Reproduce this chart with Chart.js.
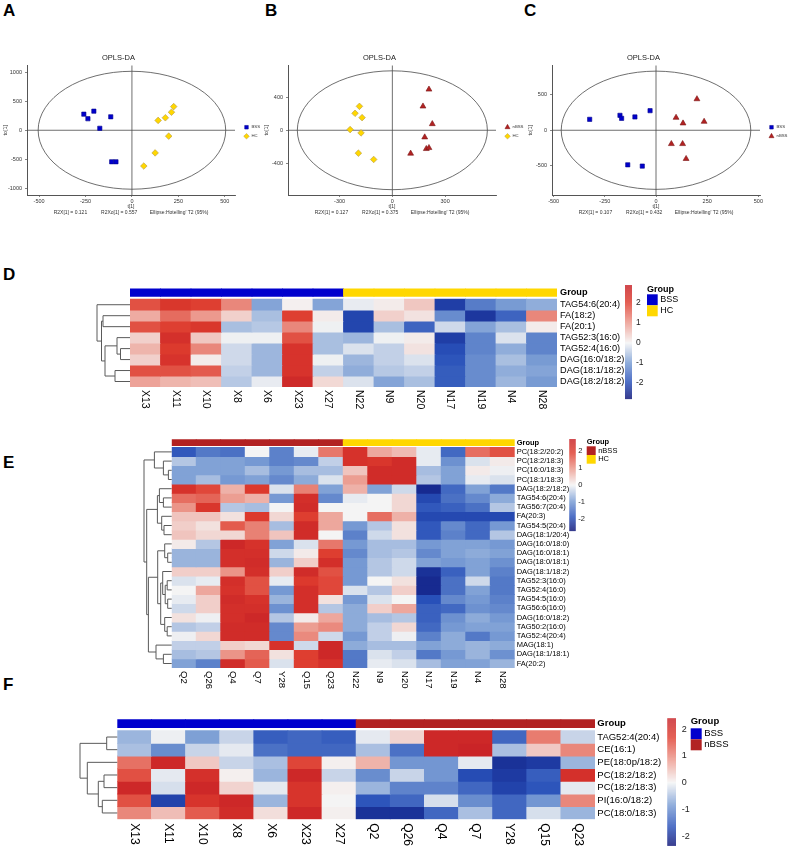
<!DOCTYPE html>
<html><head><meta charset="utf-8">
<script src="https://cdn.jsdelivr.net/npm/chart.js@4.4.1/dist/chart.umd.min.js"></script>
<style>
html,body{margin:0;padding:0;background:#fff}
body{width:789px;height:850px;position:relative;overflow:hidden;font-family:"Liberation Sans",Arial,sans-serif}
.lab{position:absolute;font-weight:bold;font-size:17px;line-height:17px;color:#000}
canvas{position:absolute}
</style></head><body>
<div class="lab" style="left:3px;top:2px">A</div>
<div class="lab" style="left:265px;top:2px">B</div>
<div class="lab" style="left:524px;top:2px">C</div>
<div class="lab" style="left:3px;top:266px">D</div>
<div class="lab" style="left:3px;top:454px">E</div>
<div class="lab" style="left:3px;top:676px">F</div>
<canvas id="cA" width="262" height="176" style="left:0px;top:40px"></canvas>
<canvas id="cB" width="262" height="176" style="left:262px;top:40px"></canvas>
<canvas id="cC" width="265" height="176" style="left:524px;top:40px"></canvas>
<canvas id="cD" width="789" height="140" style="left:0px;top:280px"></canvas>
<canvas id="cE" width="789" height="265" style="left:0px;top:430px"></canvas>
<canvas id="cF" width="789" height="145" style="left:0px;top:705px"></canvas>
<script>
const FONT = '"Liberation Sans", Arial, Helvetica, sans-serif';

// ===== Panel A: OPLS-DA BSS vs HC =====
const aBSS_t  = [-259, -237, -205, -114, -173, -109, -86];
const aBSS_to = [278, 199, 330, 233, 34, -545, -545];
const aHC_t   = [141, 180, 213, 225, 198, 125, 64];
const aHC_to  = [170, 216, 312, 409, -102, -392, -619];
const aTicksX = [-500, -250, 0, 250, 500];
const aTicksY = [-1000, -500, 0, 500, 1000];
const aEllipse = [505, 1020];
const aStats = "R2X[1] = 0.121          R2Xo[1] = 0.557         Ellipse:Hotelling' T2 (95%)";

// ===== Panel B: OPLS-DA nBSS vs HC =====
const bNBSS_t  = [208, 174, 227, 184, 193, 208, 104];
const bNBSS_to = [492, 288, 76, -84, -224, -212, -280];
const bHC_t    = [-187, -212, -172, -240, -178, -193, -106];
const bHC_to   = [288, 204, 152, 8, -32, -276, -352];
const bTicksX = [-300, 0, 300];
const bTicksY = [-400, 0, 400];
const bEllipse = [540, 716];
const bStats = "R2X[1] = 0.127          R2Xo[1] = 0.375         Ellipse:Hotelling' T2 (95%)";

// ===== Panel C: OPLS-DA BSS vs nBSS =====
const cBSS_t   = [-324, -176, -168, -103, -29, -138, -67];
const cBSS_to  = [153, 209, 167, 186, 274, -484, -502];
const cNBSS_t  = [200, 98, 132, 235, 75, 130, 147];
const cNBSS_to = [437, 177, 98, 121, -191, -191, -400];
const cTicksX = [-500, -250, 0, 250, 500];
const cTicksY = [-500, 0, 500];
const cEllipse = [463, 828];
const cStats = "R2X[1] = 0.107          R2Xo[1] = 0.432         Ellipse:Hotelling' T2 (95%)";

// ===== Heatmap D =====
const dCols = ['X13','X11','X10','X8','X6','X23','X27','N22','N9','N20','N17','N19','N4','N28'];
const dGroups = ['BSS','BSS','BSS','BSS','BSS','BSS','BSS','HC','HC','HC','HC','HC','HC','HC'];
const dRows = ['TAG54:6(20:4)','FA(18:2)','FA(20:1)','TAG52:3(16:0)','TAG52:4(16:0)','DAG(16:0/18:2)','DAG(18:1/18:2)','DAG(18:2/18:2)'];
const dValues = [
  [1.8, 2.2, 2.0, 1.2, -0.9, 0.05, -0.9, -0.1, 0.1, 0.5, -2.2, -1.4, -1.0, -0.8],
  [0.8, 1.5, 1.0, 0.4, -0.6, 2.0, 0.1, -2.1, 0.4, 0.2, -1.2, -2.3, -1.7, 1.2],
  [1.8, 2.0, 2.2, -0.6, -0.5, 1.2, -0.05, -2.1, -0.6, -1.7, -0.3, -0.9, -0.6, 0.1],
  [0.4, 2.4, 0.5, -0.05, -0.05, 1.8, -0.6, -0.7, -0.05, 0.1, -2.2, -1.3, -0.2, -1.3],
  [0.7, 2.1, 1.2, -0.3, -0.7, 2.3, -0.6, -0.2, -0.4, 0.2, -2.0, -1.3, -0.8, -1.3],
  [0.4, 2.3, 0.1, -0.3, -0.7, 2.3, -0.05, -0.7, -0.4, -0.2, -1.9, -1.2, -0.6, -1.0],
  [1.8, 1.8, 1.7, -0.4, -0.7, 2.3, -0.4, -0.8, -0.5, -0.4, -1.8, -1.2, -0.8, -0.9],
  [0.9, 0.7, 0.6, -0.5, -0.1, 2.6, 0.3, -0.2, -0.9, -0.6, -1.8, -1.2, -0.7, -1.0]
];
const dTree = [[-2,-3,27],[-5,-6,9.5],[-4,2,13],[-7,-8,15],[3,4,25],[1,5,28.5],[-1,6,33]];
const dRange = [-2.8, 2.9];

// ===== Heatmap E =====
const eCols = ['Q2','Q26','Q4','Q7','Y28','Q15','Q23','N22','N9','N20','N17','N19','N4','N28'];
const eGroups = ['nBSS','nBSS','nBSS','nBSS','nBSS','nBSS','nBSS','HC','HC','HC','HC','HC','HC','HC'];
const eRows = ['PC(18:2/20:2)','PC(18:2/18:3)','PC(16:0/18:3)','PC(18:1/18:3)','DAG(18:2/18:2)','TAG54:6(20:4)','TAG56:7(20:4)','FA(20:3)','TAG54:5(20:4)','DAG(18:1/20:4)','DAG(16:0/18:0)','DAG(16:0/18:1)','DAG(18:0/18:1)','DAG(18:1/18:2)','TAG52:3(16:0)','TAG52:4(16:0)','TAG54:5(16:0)','TAG56:6(16:0)','DAG(16:0/18:2)','TAG50:2(16:0)','TAG52:4(20:4)','MAG(18:1)','DAG(18:1/18:1)','FA(20:2)'];
const eValues = [
  [-1.8,-1.4,-1.5,0.0,-1.3,-0.1,1.3, 2.2,0.8,0.6,-0.1,-1.6,1.4,1.7],
  [-0.5,-0.9,-0.9,-1.0,-1.3,-1.2,-0.4, 2.2,2.1,2.4,-0.1,-1.1,-0.2,0.1],
  [-0.9,-0.9,-0.9,-0.6,-1.0,-0.6,-0.6, 0.5,2.4,2.4,-0.6,-0.9,0.1,-0.05],
  [-0.9,-0.6,-1.0,-0.9,-1.2,-0.8,-0.2, 0.9,2.4,2.4,-0.5,-0.9,-0.1,-0.2],
  [2.2,1.8,0.7,2.0,-0.2,1.2,-0.9, 0.7,-0.9,-0.3,-2.4,-1.6,-0.9,-1.4],
  [1.4,1.5,0.9,0.7,-1.0,2.3,-1.2, -0.1,0.0,0.3,-2.0,-1.5,-1.2,-0.8],
  [1.0,2.1,-0.5,-0.6,0.0,2.4,0.0, 0.0,0.0,0.3,-1.8,-1.7,-1.5,-0.5],
  [0.5,0.5,0.2,2.0,0.3,1.9,0.8, 0.0,1.4,0.7,-2.0,-2.0,-2.0,-2.0],
  [0.4,0.2,1.6,1.2,-0.6,2.4,0.8, -1.0,-0.5,0.2,-1.8,-1.2,-1.6,-1.0],
  [0.5,0.3,0.3,1.2,0.5,2.4,0.0, -1.3,-0.3,0.2,-1.8,-1.3,-1.6,-0.5],
  [0.1,-0.5,2.5,2.2,-0.9,-0.2,1.3, -1.0,-0.6,-0.6,-1.0,-0.9,-0.9,-1.0],
  [-0.7,-0.7,2.3,2.3,-0.3,0.1,1.9, -1.2,-0.6,-0.5,-1.2,-0.9,-0.8,-0.9],
  [-0.7,-0.7,2.3,2.4,-0.7,0.4,2.3, -1.0,-0.5,-0.3,-0.9,-1.0,-0.9,-1.1],
  [0.4,0.4,1.0,2.3,0.4,2.4,1.7, -1.0,-0.5,-0.3,-2.3,-1.7,-0.9,-1.3],
  [-0.2,-0.1,2.3,1.7,-0.1,2.0,1.8, -1.0,0.0,0.2,-2.4,-1.5,-0.3,-1.4],
  [0.0,0.8,2.2,1.7,-1.0,2.3,1.8, -0.2,-0.5,0.4,-2.4,-1.5,-0.9,-1.4],
  [-0.1,0.4,2.4,2.2,-0.7,2.3,0.2, -1.0,-0.2,0.0,-1.9,-1.2,-1.0,-1.3],
  [-0.3,0.4,2.3,2.3,-1.1,2.3,-0.5, -0.8,0.4,0.8,-1.7,-1.6,-1.1,-1.2],
  [0.2,-0.05,2.3,2.5,-0.5,0.1,0.8, -0.8,-0.6,-0.5,-1.7,-1.1,-0.8,-1.0],
  [-0.5,-0.4,2.4,2.4,-1.2,0.9,1.1, -0.8,-0.4,0.3,-1.6,-1.0,-0.9,-0.9],
  [-0.05,0.3,2.4,2.4,-1.2,1.1,-0.3, -1.0,-0.4,-0.05,-1.3,-0.8,-1.4,-1.0],
  [-0.4,-0.4,0.4,0.3,2.2,-0.3,2.5, -0.8,-0.6,-0.6,-0.9,-0.8,-0.7,-0.8],
  [-0.6,-0.5,1.0,1.5,0.2,1.9,2.5, -1.4,-0.2,-0.4,-1.4,-1.0,-0.7,-1.1],
  [-0.9,-1.3,2.4,1.6,-0.2,1.9,2.2, -1.4,-0.1,-0.2,-0.6,-0.9,-0.9,-0.7]
];
const eTree = [
  [-3,-4,3.3],[-2,1,8.3],[-1,2,17.3],
  [-6,-7,8.3],[-5,4,12.3],[-9,-10,7.7],[-8,6,10],[5,7,14.3],
  [-12,-13,4],[-11,9,7],
  [-15,-16,4.5],[-17,-18,4],[11,12,6.5],[-14,13,9],
  [-20,-21,4.5],[-19,15,7],[14,16,11],[10,17,14],
  [-23,-24,8.3],[-22,19,15.7],[18,20,23.3],
  [8,21,25],[3,22,27.7]
];
const eRange = [-2.72, 2.74];

// ===== Heatmap F =====
const fCols = ['X13','X11','X10','X8','X6','X23','X27','Q2','Q26','Q4','Q7','Y28','Q15','Q23'];
const fGroups = ['BSS','BSS','BSS','BSS','BSS','BSS','BSS','nBSS','nBSS','nBSS','nBSS','nBSS','nBSS','nBSS'];
const fRows = ['TAG52:4(20:4)','CE(16:1)','PE(18:0p/18:2)','PC(18:2/18:2)','PC(18:2/18:3)','PI(16:0/18:2)','PC(18:0/18:3)'];
const fValues = [
  [-0.6,-0.05,-0.8,-0.3,-1.5,-1.4,-1.5, -0.1,0.3,2.2,2.2,-1.4,1.1,-0.3],
  [-0.5,-1.0,-0.3,-0.1,-1.3,-1.4,-1.4, -0.5,-1.3,2.2,2.3,-0.5,0.4,1.0],
  [1.2,2.2,0.4,-0.3,-0.5,1.6,0.05, 0.6,-0.9,-0.9,-0.1,-2.0,-1.9,-0.6],
  [1.5,-0.1,2.0,0.05,-0.6,2.2,-0.3, -1.0,-0.3,-0.9,-1.7,-1.9,-1.5,2.0],
  [2.2,-0.2,2.2,0.3,-0.1,1.9,0.05, -0.6,-1.1,-1.1,-1.4,-1.8,-1.6,-0.1],
  [1.5,-1.8,1.9,2.2,-0.6,1.9,0.0, -1.6,-1.4,-0.2,-1.0,-1.4,-0.9,1.0],
  [1.0,0.5,1.4,2.1,0.2,2.2,0.05, -2.0,-2.0,-1.4,-0.5,-1.4,-0.2,-0.6]
];
const fTree = [[-1,-2,10.6],[-4,-5,13.3],[-6,-7,15],[2,3,19],[-3,4,30],[1,5,37.3]];
const fRange = [-2.36, 2.41];

const colorbarTicks = [-2, -1, 0, 1, 2];
const groupColors = {BSS:'#0000CD', HC:'#FFD700', nBSS:'#B22222'};

// ---------- colour scale ----------
const blueStops = [[0,[12,18,118]],[0.3,[40,80,185]],[0.65,[122,157,212]],[1,[244,244,244]]];
const redStops  = [[0,[244,244,244]],[0.35,[236,152,140]],[0.7,[222,60,46]],[1,[198,32,38]]];
function interp(stops, f){
  f = Math.max(0, Math.min(1, f));
  for (let i=1;i<stops.length;i++){
    if (f <= stops[i][0]){
      const [f0,c0] = stops[i-1], [f1,c1] = stops[i];
      const t = (f-f0)/(f1-f0);
      return 'rgb(' + c0.map((c,k)=>Math.round(c+(c1[k]-c)*t)).join(',') + ')';
    }
  }
  const c = stops[stops.length-1][1];
  return 'rgb(' + c.join(',') + ')';
}
function heatColor(v, range){
  return v < 0 ? interp(blueStops, (v - range[0]) / (0 - range[0])) : interp(redStops, v / range[1]);
}

// ---------- OPLS-DA decorations ----------
const oplsDecor = {
  id:'oplsDecor',
  beforeDatasetsDraw(chart, args, o){
    const {ctx, chartArea:a, scales:{x, y}} = chart;
    const x0 = x.getPixelForValue(0), y0 = y.getPixelForValue(0);
    ctx.save();
    ctx.strokeStyle = '#4a4a4a'; ctx.lineWidth = 0.8;
    ctx.beginPath();
    ctx.moveTo(x0, a.top); ctx.lineTo(x0, a.bottom);
    ctx.moveTo(a.left, y0); ctx.lineTo(a.right, y0);
    ctx.stroke();
    const rx = x.getPixelForValue(o.ellipse[0]) - x0;
    const ry = y0 - y.getPixelForValue(o.ellipse[1]);
    ctx.beginPath(); ctx.ellipse(x0, y0, rx, ry, 0, 0, Math.PI*2); ctx.stroke();
    ctx.restore();
  },
  afterDraw(chart, args, o){
    const {ctx, chartArea:a} = chart;
    const cy = (a.top + a.bottom)/2;
    ctx.save();
    chart.data.datasets.forEach((ds, i) => {
      const px = a.right + o.dx, py = cy + o.dy[i];
      ctx.fillStyle = ds.backgroundColor; ctx.strokeStyle = ds.borderColor; ctx.lineWidth = 0.5;
      Chart.helpers.drawPoint(ctx, {pointStyle: ds.pointStyle, radius: ds.pointRadius*0.85, borderWidth: 0.5}, px, py);
      ctx.fillStyle = '#333'; ctx.font = o.font + 'px ' + FONT; ctx.textBaseline = 'middle'; ctx.textAlign = 'left';
      ctx.fillText(ds.label, px + 5, py);
    });
    ctx.restore();
  }
};

function oplsChart(id, cfg){
  return new Chart(document.getElementById(id), {
    type:'scatter',
    data:{datasets: cfg.series.map(s => ({
      label:s.label,
      data:s.t.map((v,i) => ({x:v, y:s.to[i]})),
      pointStyle:s.style, pointRadius:s.r, pointBorderWidth:0.6,
      backgroundColor:s.fill, borderColor:s.stroke
    }))},
    options:{
      responsive:false, animation:false, events:[],
      layout:{padding:cfg.pad},
      plugins:{
        legend:{display:false}, tooltip:{enabled:false},
        title:{display:true, text:'OPLS-DA', color:'#222', font:{family:FONT, size:7.5, weight:'normal'}, padding:{top:0, bottom:3}},
        oplsDecor:{ellipse:cfg.ellipse, dx:11.5, dy:[-3, 6], font:4.3}
      },
      scales:{
        x:{type:'linear', min:cfg.xr[0], max:cfg.xr[1],
          afterBuildTicks:s => { s.ticks = cfg.xt.map(v => ({value:v})); },
          afterFit:s => { s.height = 21; },
          ticks:{color:'#333', font:{family:FONT, size:5.5}, padding:1, maxRotation:0, autoSkip:false, callback:v => String(v)},
          grid:{drawOnChartArea:false, tickLength:2, color:'#666', lineWidth:0.8},
          border:{display:true, color:'#555', width:1},
          title:{display:true, text:['t[1]', cfg.stats], color:'#333', font:{family:FONT, size:5}, padding:0}},
        y:{type:'linear', min:cfg.yr[0], max:cfg.yr[1],
          afterBuildTicks:s => { s.ticks = cfg.yt.map(v => ({value:v})); },
          afterFit:s => { s.width = 25; },
          ticks:{color:'#333', font:{family:FONT, size:5.5}, padding:3, autoSkip:false, callback:v => String(v)},
          grid:{drawOnChartArea:false, tickLength:2, color:'#666', lineWidth:0.8},
          border:{display:true, color:'#555', width:1},
          title:{display:true, text:'to[1]', color:'#333', font:{family:FONT, size:5.5}, padding:0}}
      }
    },
    plugins:[oplsDecor]
  });
}

const SQ = {style:'rect', r:3.0, fill:'#0000CD', stroke:'#00008B'};
const DI = {style:'rectRot', r:3.3, fill:'#FFD700', stroke:'#B59B4A'};
const TR = {style:'triangle', r:3.4, fill:'#B22222', stroke:'#7A1515'};

oplsChart('cA', {pad:{top:13.5, left:2, right:27, bottom:0}, xr:[-565,555], yr:[-1120,1120], xt:aTicksX, yt:aTicksY, ellipse:aEllipse, stats:aStats,
  series:[Object.assign({label:'BSS', t:aBSS_t, to:aBSS_to}, SQ), Object.assign({label:'HC', t:aHC_t, to:aHC_to}, DI)]});
oplsChart('cB', {pad:{top:13.5, left:1, right:28, bottom:0}, xr:[-593,589], yr:[-780,780], xt:bTicksX, yt:bTicksY, ellipse:bEllipse, stats:bStats,
  series:[Object.assign({label:'nBSS', t:bNBSS_t, to:bNBSS_to}, TR), Object.assign({label:'HC', t:bHC_t, to:bHC_to}, DI)]});
oplsChart('cC', {pad:{top:13.5, left:3, right:29, bottom:0}, xr:[-508,508], yr:[-907,907], xt:cTicksX, yt:cTicksY, ellipse:cEllipse, stats:cStats,
  series:[Object.assign({label:'BSS', t:cBSS_t, to:cBSS_to}, SQ), Object.assign({label:'nBSS', t:cNBSS_t, to:cNBSS_to}, TR)]});

// ---------- heatmap decorations ----------
const heatDecor = {
  id:'heatDecor',
  afterDraw(chart, args, o){
    const {ctx, chartArea:a, scales:{x, y}} = chart;
    ctx.save();
    // dendrogram
    ctx.strokeStyle = '#5a5a5a'; ctx.lineWidth = 1;
    ctx.beginPath();
    const nodes = [];
    const node = k => k < 0 ? {y: y.getPixelForValue(-k - 1 + 0.5), h: 0} : nodes[k - 1];
    o.tree.forEach(([p, q, h]) => {
      const A = node(p), B = node(q);
      const xh = a.left - h * o.treeUnit;
      ctx.moveTo(a.left - A.h * o.treeUnit, A.y); ctx.lineTo(xh, A.y);
      ctx.lineTo(xh, B.y); ctx.lineTo(a.left - B.h * o.treeUnit, B.y);
      nodes.push({y: (A.y + B.y) / 2, h});
    });
    ctx.stroke();
    // column labels (rotated, reading downwards)
    ctx.fillStyle = '#000'; ctx.font = o.colFont + 'px ' + FONT;
    ctx.textAlign = 'left'; ctx.textBaseline = 'middle';
    x.getLabels().forEach((lab, j) => {
      ctx.save();
      ctx.translate(x.getPixelForValue(j), a.bottom + o.colGap);
      ctx.rotate(Math.PI / 2);
      ctx.fillText(lab, 0, 0);
      ctx.restore();
    });
    // colour bar
    const cb = o.cb, lo = o.range[0], hi = o.range[1];
    const vy = v => cb.y + (hi - v) / (hi - lo) * cb.h;
    for (let py = 0; py < cb.h; py += 0.5){
      const v = hi - (py + 0.25) / cb.h * (hi - lo);
      ctx.fillStyle = heatColor(v, o.range);
      ctx.fillRect(cb.x, cb.y + py, cb.w, 0.6);
    }
    ctx.fillStyle = '#222'; ctx.font = cb.font + 'px ' + FONT; ctx.textAlign = 'left'; ctx.textBaseline = 'middle';
    colorbarTicks.forEach(t => ctx.fillText(String(t), cb.x + cb.w + cb.gap, vy(t)));
    // group legend
    const L = o.leg;
    ctx.fillStyle = '#000'; ctx.font = 'bold ' + L.font + 'px ' + FONT;
    ctx.fillText('Group', L.x, L.y);
    ctx.font = L.font + 'px ' + FONT;
    L.items.forEach((g, i) => {
      const by = L.y + L.first + i * L.bh;
      ctx.fillStyle = groupColors[g];
      ctx.fillRect(L.x, by, L.bw, L.bh);
      ctx.fillStyle = '#000';
      ctx.fillText(g, L.x + L.bw + 2.5, by + L.bh / 2);
    });
    ctx.restore();
  }
};

function heatmap(id, cfg){
  const nR = cfg.rows.length;
  const datasets = [{
    data: cfg.cols.map(() => [-cfg.gTop, -cfg.gBot]),
    backgroundColor: cfg.groups.map(g => groupColors[g])
  }];
  cfg.values.forEach((row, i) => datasets.push({
    data: row.map(() => [i, i + 1]),
    backgroundColor: row.map(v => heatColor(v, cfg.range))
  }));
  return new Chart(document.getElementById(id), {
    type:'bar',
    data:{labels: cfg.cols, datasets},
    options:{
      responsive:false, animation:false, events:[],
      layout:{padding:cfg.pad},
      datasets:{bar:{grouped:false, barPercentage:1, categoryPercentage:1, borderWidth:0, inflateAmount:0.4}},
      plugins:{legend:{display:false}, tooltip:{enabled:false}, heatDecor:cfg.decor},
      scales:{
        x:{type:'category', display:false, offset:true},
        y:{type:'linear', position:'right', reverse:true, min:-cfg.gTop, max:nR,
          afterBuildTicks:s => { s.ticks = [{value: -(cfg.gTop + cfg.gBot) / 2}].concat(cfg.rows.map((r, i) => ({value: i + 0.5}))); },
          afterFit:s => { s.width = 100; },
          ticks:{autoSkip:false, padding:cfg.labPad, color:'#000',
            font:c => ({family:FONT, size:cfg.rowFont, weight: c.index === 0 ? 'bold' : 'normal'}),
            callback:(v, i) => i === 0 ? 'Group' : cfg.rows[i - 1]},
          grid:{display:false, drawTicks:false}, border:{display:false}}
      }
    },
    plugins:[heatDecor]
  });
}

heatmap('cD', {cols:dCols, groups:dGroups, rows:dRows, values:dValues, range:dRange,
  gTop:0.978, gBot:0.267, pad:{left:130, top:6, right:132, bottom:33}, labPad:3, rowFont:9.2,
  decor:{tree:dTree, treeUnit:1, colFont:10.5, colGap:3, range:dRange,
    cb:{x:625, y:5, w:7, h:114, font:8.5, gap:4},
    leg:{x:647, y:9.3, first:5, bw:10.7, bh:11, font:9, items:['BSS','HC']}}});

heatmap('cE', {cols:eCols, groups:eGroups, rows:eRows, values:eValues, range:eRange,
  gTop:0.87, gBot:0.174, pad:{left:171.7, top:9.3, right:174.3, bottom:26.9}, labPad:2, rowFont:7.5,
  decor:{tree:eTree, treeUnit:1, colFont:9.5, colGap:3, range:eRange,
    cb:{x:569.3, y:9, w:6.4, h:91.7, font:7.5, gap:2.6},
    leg:{x:586.7, y:12, first:4.3, bw:9, bh:8.7, font:7.5, items:['nBSS','HC']}}});

heatmap('cF', {cols:fCols, groups:fGroups, rows:fRows, values:fValues, range:fRange,
  gTop:0.9, gBot:0.237, pad:{left:117.3, top:14.3, right:94, bottom:30.7}, labPad:2.3, rowFont:9.5,
  decor:{tree:fTree, treeUnit:1, colFont:12, colGap:4, range:fRange,
    cb:{x:667.3, y:13.3, w:8.7, h:127.4, font:9, gap:5.7},
    leg:{x:690.7, y:16.7, first:6.6, bw:11, bh:11, font:9.5, items:['BSS','nBSS']}}});
</script>
</body></html>
